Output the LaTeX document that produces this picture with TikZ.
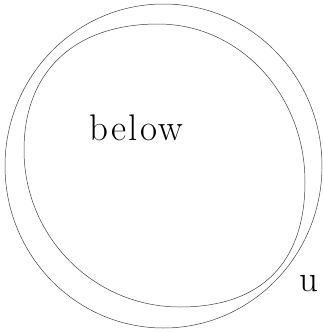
\documentclass[tikz,border=0pt]{standalone}
\usepackage{fontspec}
\newfontfamily\lblfont{Latin Modern Roman}[LetterSpace=6]
\begin{document}
\begin{tikzpicture}[x=1pt,y=-1pt,
  curve/.style={draw=black!75,line width=0.5pt},
  lbl/.style={font=\lblfont\fontsize{37}{40}\selectfont,inner sep=0pt}]
\useasboundingbox (0,0) rectangle (323,332);
\draw[curve] (163.5,166) ellipse [x radius=158.5, y radius=162];
\coordinate (T) at (158,24);
\coordinate (R) at (305,182);
\coordinate (B) at (180,307);
\coordinate (L) at (24,150);
\draw[curve] (T) .. controls (240,24) and (305,95) .. (R)
  .. controls (305,263) and (261,307) .. (B)
  .. controls (94,307) and (24,237) .. (L)
  .. controls (24,72) and (74,24) .. (T) -- cycle;
\node[lbl,anchor=base west] (below) at (89,140) {below};
\node[lbl,anchor=base west] (u) at (299,291) {u};
\end{tikzpicture}
\end{document}
